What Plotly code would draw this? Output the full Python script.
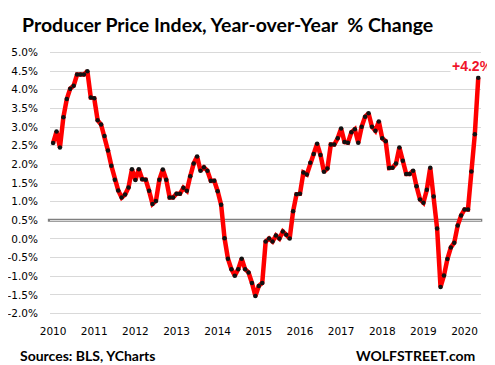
import plotly.graph_objects as go

# ---- data ----
years = ["2010", "2011", "2012", "2013", "2014", "2015", "2016", "2017", "2018", "2019", "2020"]
ppi_yoy = [
    2.57, 2.88, 2.45, 3.26, 3.75, 4.03, 4.11, 4.41, 4.41, 4.41, 4.50, 3.79,
    3.77, 3.18, 3.07, 2.76, 2.37, 1.96, 1.59, 1.30, 1.11, 1.19, 1.38, 1.87,
    1.58, 1.87, 1.60, 1.59, 1.29, 0.94, 1.02, 1.59, 1.86, 1.59, 1.11, 1.11,
    1.21, 1.21, 1.37, 1.29, 1.68, 2.02, 2.21, 1.83, 1.92, 1.83, 1.56, 1.56,
    1.28, 0.92, 0.02, -0.53, -0.81, -0.99, -0.81, -0.53, -0.81, -0.90, -1.18, -1.53,
    -1.26, -1.18, -0.07, 0.01, -0.07, 0.09, 0.01, 0.20, 0.11, 0.01, 0.74, 1.20,
    1.21, 1.78, 1.73, 2.04, 2.28, 2.55, 2.25, 1.80, 1.89, 2.53, 2.53, 2.70,
    2.96, 2.60, 2.58, 2.86, 2.94, 2.58, 3.01, 3.28, 3.37, 3.01, 2.90, 3.15,
    2.70, 2.62, 1.90, 1.91, 2.02, 2.45, 2.10, 1.74, 1.74, 1.83, 1.41, 1.06,
    0.97, 1.32, 1.91, 1.14, 0.28, -1.29, -0.98, -0.54, -0.23, -0.10, 0.36, 0.63,
    0.79, 0.79, 1.81, 2.81, 4.32,
]
months = list(range(len(ppi_yoy)))
tick_positions = [12 * i for i in range(len(years))]
y_tick_vals = [-2.0, -1.5, -1.0, -0.5, 0.0, 0.5, 1.0, 1.5, 2.0, 2.5, 3.0, 3.5, 4.0, 4.5, 5.0]
y_tick_labels = ["-2.0%", "-1.5%", "-1.0%", "-0.5%", "0.0%", "0.5%", "1.0%", "1.5%",
                 "2.0%", "2.5%", "3.0%", "3.5%", "4.0%", "4.5%", "5.0%"]
ref_level = 0.5
last_label = "+4.2%"
title_text = "Producer Price Index, Year-over-Year\u00a0 % Change"
source_text = "Sources: BLS, YCharts"
brand_text = "WOLFSTREET.com"

# ---- layout constants (page body adds an 8px offset) ----
OFF = 8
W, H = 495 - OFF, 365 - OFF
ML, MR, MT, MB = 50 - OFF, 14, 51 - OFF, 50
PW, PH = W - ML - MR, H - MT - MB


def px_to_paper(px, py):
    # px, py in window pixels
    return (px - OFF - ML) / PW, (H - MB - (py - OFF)) / PH


fig = go.Figure()
fig.add_trace(go.Scatter(
    x=months, y=ppi_yoy, mode="lines+markers",
    line=dict(color="#ff0000", width=4.5),
    marker=dict(color="#111111", size=4.5),
    hoverinfo="skip", showlegend=False,
))

fig.add_shape(type="line", xref="paper", yref="y", x0=-0.005, x1=1.003,
              y0=ref_level, y1=ref_level, line=dict(color="#7f7f7f", width=3),
              layer="between")

sx, sy = px_to_paper(18, 355)
bx, by = px_to_paper(477, 355)
fig.add_annotation(x=sx, y=sy, xref="paper", yref="paper", xanchor="left", yanchor="middle",
                   text="<b>" + source_text + "</b>", showarrow=False,
                   font=dict(family="Lato", size=14, color="black"))
fig.add_annotation(x=bx, y=by, xref="paper", yref="paper", xanchor="right", yanchor="middle",
                   text="<b>" + brand_text + "</b>", showarrow=False,
                   font=dict(family="Lato", size=14, color="black"))
fig.add_annotation(x=months[-1], y=ppi_yoy[-1], xref="x", yref="y",
                   xanchor="center", yanchor="bottom", xshift=-6, yshift=2,
                   text="<b>" + last_label + "</b>", showarrow=False, bgcolor="white",
                   font=dict(family="Liberation Sans", size=14, color="#f0142a"))

fig.update_layout(
    width=W, height=H,
    margin=dict(l=ML, r=MR, t=MT, b=MB, autoexpand=False),
    paper_bgcolor="white", plot_bgcolor="white",
    font=dict(family="DejaVu Sans", size=10.5, color="black"),
    title=dict(text="<b>" + title_text + "</b>", x=(22 - OFF) / W, xref="container", xanchor="left",
               y=1 - (25 - OFF) / H, yref="container", yanchor="middle",
               font=dict(family="Lato", size=19.5, color="black")),
    xaxis=dict(range=[-0.9, 124.8], tickmode="array", tickvals=tick_positions, ticktext=years,
               showgrid=False, zeroline=False, showline=False,
               ticks="outside", ticklen=6, tickcolor="rgba(0,0,0,0)",
               tickfont=dict(family="DejaVu Sans", size=10.5, color="black")),
    yaxis=dict(range=[-2.04, 5.04], tickmode="array", tickvals=y_tick_vals, ticktext=y_tick_labels,
               showgrid=True, gridcolor="#d9d9d9", gridwidth=1, zeroline=False, showline=False,
               ticks="outside", ticklen=9, tickcolor="rgba(0,0,0,0)",
               tickfont=dict(family="DejaVu Sans", size=10.5, color="black")),
)

fig.write_html("out.html")
